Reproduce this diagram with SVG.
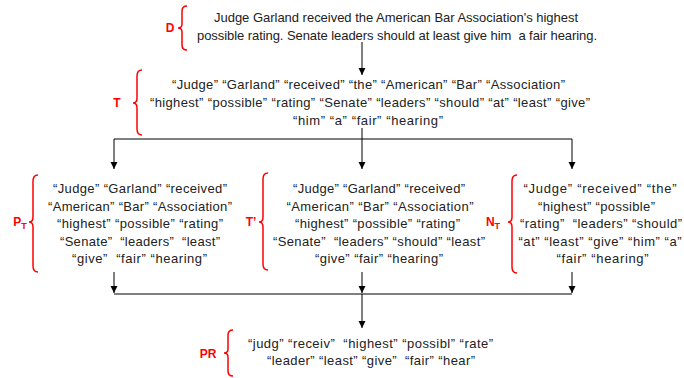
<svg xmlns="http://www.w3.org/2000/svg" width="684" height="378" viewBox="0 0 684 378">
<defs>
<marker id="ah" markerWidth="8" markerHeight="8" refX="7" refY="4" orient="auto" markerUnits="userSpaceOnUse">
<path d="M0,0.5 L7,4 L0,7.5 Z" fill="#000"/>
</marker>
</defs>
<style>
.t{font-family:"Liberation Sans",Arial,sans-serif;font-size:13px;fill:#222;text-anchor:middle;white-space:pre}
.lab{font-family:"Liberation Sans",Arial,sans-serif;font-size:12px;font-weight:bold;fill:#ff0000;text-anchor:middle}
.sub{font-size:9px}
.br{fill:none;stroke:#ff0000;stroke-width:1.5}
.c{fill:none;stroke:#000;stroke-width:1}
</style>
<rect width="684" height="378" fill="#fff"/>
<g id="connectors">
<line class="c" x1="362" y1="42" x2="362" y2="75" marker-end="url(#ah)"/>
<line class="c" x1="362" y1="128" x2="362" y2="169" marker-end="url(#ah)"/>
<line class="c" x1="114" y1="139" x2="572" y2="139"/>
<line class="c" x1="114" y1="139" x2="114" y2="169" marker-end="url(#ah)"/>
<line class="c" x1="572" y1="139" x2="572" y2="169" marker-end="url(#ah)"/>
<line class="c" x1="114" y1="272" x2="114" y2="293" marker-end="url(#ah)"/>
<line class="c" x1="362" y1="272" x2="362" y2="293" marker-end="url(#ah)"/>
<line class="c" x1="572" y1="272" x2="572" y2="293" marker-end="url(#ah)"/>
<line class="c" x1="114" y1="294" x2="572" y2="294"/>
<line class="c" x1="362" y1="294" x2="362" y2="328" marker-end="url(#ah)"/>
</g>
<g id="D">
<text class="lab" x="170" y="32">D</text>
<path class="br" d="M187,6 Q182,6 182,11 L182,24 Q182,28 178,28 Q182,28 182,32 L182,45 Q182,50 187,50"/>
<text class="t" x="396" y="22" textLength="364">Judge Garland received the American Bar Association's highest</text>
<text class="t" x="397" y="40" textLength="400">possible rating. Senate leaders should at least give him  a fair hearing.</text>
</g>
<g id="T">
<text class="lab" x="117" y="107">T</text>
<path class="br" d="M142,70 Q137,70 137,76 L137,98 Q137,103 133,103 Q137,103 137,108 L137,129 Q137,135 142,135"/>
<text class="t" x="368.5" y="89" textLength="393">“Judge” “Garland” “received” “the” “American” “Bar” “Association”</text>
<text class="t" x="370" y="107" textLength="440">“highest” “possible” “rating” “Senate” “leaders” “should” “at” “least” “give”</text>
<text class="t" x="368" y="125" textLength="150">“him” “a” “fair” “hearing”</text>
</g>
<g id="PT">
<text class="lab" x="20" y="226">P<tspan class="sub" dy="3">T</tspan></text>
<path class="br" d="M38,175 Q33,175 33,181 L33,217 Q33,222 29,222 Q33,222 33,227 L33,266 Q33,272 38,272"/>
<text class="t" x="140" y="193" textLength="174">“Judge” “Garland” “received”</text>
<text class="t" x="140" y="210.5" textLength="184">“American” “Bar” “Association”</text>
<text class="t" x="140" y="228" textLength="166">“highest” “possible” “rating”</text>
<text class="t" x="140" y="245.5" textLength="160">“Senate”  “leaders”  “least”</text>
<text class="t" x="139.5" y="263" textLength="135">“give”  “fair” “hearing”</text>
</g>
<g id="Tprime">
<text class="lab" x="251" y="226">T’</text>
<path class="br" d="M268,173 Q263,173 263,179 L263,217 Q263,222 259,222 Q263,222 263,227 L263,264 Q263,270 268,270"/>
<text class="t" x="379" y="193" textLength="172">“Judge” “Garland” “received”</text>
<text class="t" x="380" y="210.5" textLength="187">“American” “Bar” “Association”</text>
<text class="t" x="377.5" y="228" textLength="165">“highest” “possible” “rating”</text>
<text class="t" x="379" y="245.5" textLength="212">“Senate”  “leaders” “should” “least”</text>
<text class="t" x="379" y="263" textLength="128">“give” “fair” “hearing”</text>
</g>
<g id="NT">
<text class="lab" x="493" y="226">N<tspan class="sub" dy="3">T</tspan></text>
<path class="br" d="M517,175 Q512,175 512,181 L512,217 Q512,222 508,222 Q512,222 512,227 L512,267 Q512,273 517,273"/>
<text class="t" x="600" y="193" textLength="153">“Judge” “received” “the”</text>
<text class="t" x="596.5" y="210.5" textLength="117">“highest” “possible”</text>
<text class="t" x="601" y="228" textLength="162">“rating”  “leaders” “should”</text>
<text class="t" x="600" y="245.5" textLength="163">“at” “least” “give” “him” “a”</text>
<text class="t" x="602.5" y="263" textLength="92">“fair” “hearing”</text>
</g>
<g id="PR">
<text class="lab" x="208" y="358">PR</text>
<path class="br" d="M233,330 Q228,330 228,335 L228,349 Q228,353 224,353 Q228,353 228,357 L228,371 Q228,376 233,376"/>
<text class="t" x="370.5" y="348" textLength="245">“judg” “receiv”  “highest” “possibl” “rate”</text>
<text class="t" x="371" y="365" textLength="208">“leader” “least” “give”  “fair” “hear”</text>
</g>
</svg>
